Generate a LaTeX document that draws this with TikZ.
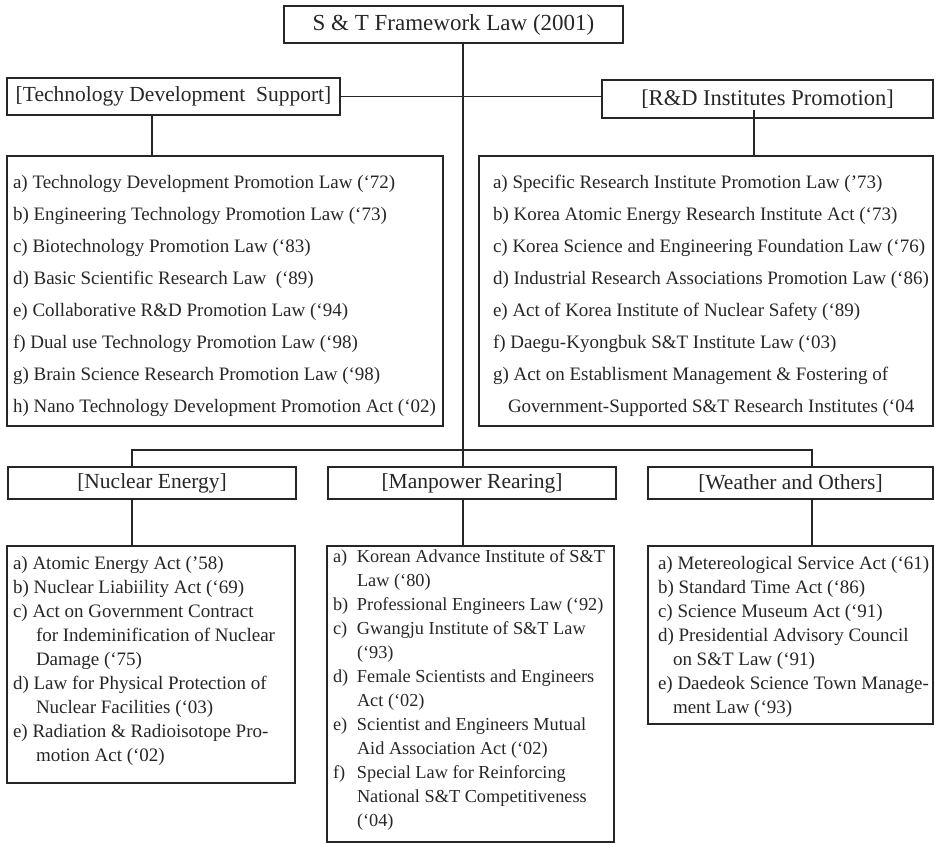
\documentclass[tikz,border=0pt]{standalone}
\usepackage{fontspec}
\setmainfont{Liberation Serif}
\usetikzlibrary{positioning}

\begin{document}
\begin{tikzpicture}[x=1pt, y=-1pt, line width=1.2pt, color=black!85,
  box/.style = {draw, inner sep=0pt},
  head/.style = {box, font=\fontsize{21.5}{24}\selectfont},
  lawbox/.style = {box},
  items/.style = {align=left, inner sep=0pt, anchor=north west},
  wide/.style = {items, font=\fontsize{19}{32}\selectfont},
  tight/.style = {items, font=\fontsize{19}{24}\selectfont}]
\useasboundingbox (0,0) rectangle (935,843);

% headings
\node[head, minimum width=339pt, minimum height=37pt, font=\fontsize{23}{24}\selectfont] (fw) at (453.5,24.5) {S \& T Framework Law (2001)};
\node[head, minimum width=333pt, minimum height=37pt] (tds) at (173.5,96.5) {[Technology Development\ \ Support]};
\node[head, minimum width=331pt, minimum height=38pt, font=\fontsize{22.5}{24}\selectfont] (rdi) at (767.5,99) {[R\&D Institutes Promotion]};
\node[head, minimum width=288pt, minimum height=32pt] (nuc) at (152,483) {[Nuclear Energy]};
\node[head, minimum width=288pt, minimum height=32pt] (man) at (472,483) {[Manpower Rearing]};
\node[head, minimum width=285pt, minimum height=32pt] (wea) at (790.5,483) {[Weather and Others]};

% law boxes
\node[lawbox, minimum width=436pt, minimum height=270pt] (tdsl) at (225,291) {};
\node[lawbox, minimum width=454pt, minimum height=270pt] (rdil) at (706,291) {};
\node[lawbox, minimum width=288pt, minimum height=237pt] (nucl) at (151,664.5) {};
\node[lawbox, minimum width=287pt, minimum height=296pt] (manl) at (470.5,694) {};
\node[lawbox, minimum width=285pt, minimum height=178pt] (weal) at (790.5,635) {};

\node[wide] (tdst) at ([shift={(6,19)}]tdsl.north west) {a) Technology Development Promotion Law (‘72)\\
b) Engineering Technology Promotion Law (‘73)\\
c) Biotechnology Promotion Law (‘83)\\
d) Basic Scientific Research Law\ \ (‘89)\\
e) Collaborative R\&D Promotion Law (‘94)\\
f) Dual use Technology Promotion Law (‘98)\\
g) Brain Science Research Promotion Law (‘98)\\
h) Nano Technology Development Promotion Act (‘02)};

\node[wide] (rdit) at ([shift={(14,19)}]rdil.north west) {a) Specific Research Institute Promotion Law (’73)\\
b) Korea Atomic Energy Research Institute Act (‘73)\\
c) Korea Science and Engineering Foundation Law (‘76)\\
d) Industrial Research Associations Promotion Law (‘86)\\
e) Act of Korea Institute of Nuclear Safety (‘89)\\
f) Daegu-Kyongbuk S\&T Institute Law (‘03)\\
g) Act on Establisment Management \& Fostering of\\
\hspace*{15pt}Government-Supported S\&T Research Institutes (‘04};

\node[tight] (nuct) at ([shift={(6,10)}]nucl.north west) {a) Atomic Energy Act (’58)\\
b) Nuclear Liabiility Act (‘69)\\
c) Act on Government Contract\\
\hspace*{23pt}for Indeminification of Nuclear\\
\hspace*{23pt}Damage (‘75)\\
d) Law for Physical Protection of\\
\hspace*{23pt}Nuclear Facilities (‘03)\\
e) Radiation \& Radioisotope Pro-\\
\hspace*{23pt}motion Act (‘02)};

\node[tight, font=\fontsize{18.3}{24}\selectfont] (mant) at ([shift={(6,4)}]manl.north west) {\makebox[24pt][l]{a)}Korean Advance Institute of S\&T\\
\hspace*{24pt}Law (‘80)\\
\makebox[24pt][l]{b)}Professional Engineers Law (‘92)\\
\makebox[24pt][l]{c)}Gwangju Institute of S\&T Law\\
\hspace*{24pt}(‘93)\\
\makebox[24pt][l]{d)}Female Scientists and Engineers\\
\hspace*{24pt}Act (‘02)\\
\makebox[24pt][l]{e)}Scientist and Engineers Mutual\\
\hspace*{24pt}Aid Association Act (‘02)\\
\makebox[24pt][l]{f)}Special Law for Reinforcing\\
\hspace*{24pt}National S\&T Competitiveness\\
\hspace*{24pt}(‘04)};

\node[tight] (weat) at ([shift={(10,10)}]weal.north west) {a) Metereological Service Act (‘61)\\
b) Standard Time Act (‘86)\\
c) Science Museum Act (‘91)\\
d) Presidential Advisory Council\\
\hspace*{15pt}on S\&T Law (‘91)\\
e) Daedeok Science Town Manage-\\
\hspace*{15pt}ment Law (‘93)};

% connectors
\coordinate (spine) at (463,450);
\coordinate (nucx) at (132,450);
\coordinate (weax) at (812,450);
\coordinate (tdsx) at (152,0);
\coordinate (rdtap) at (754,110);
\draw (fw.south -| spine) -- (man.north -| spine);
\draw (man.south -| spine) -- (manl.north -| spine);
\draw (tds.east) -- (rdi.west |- tds.east);
\draw (tds.south -| tdsx) -- (tdsl.north -| tdsx);
\draw (rdtap) -- (rdil.north -| rdtap);
\draw (nuc.north -| nucx) -- (nucx) -- (weax) -- (wea.north -| weax);
\draw (nuc.south -| nucx) -- (nucl.north -| nucx);
\draw (wea.south -| weax) -- (weal.north -| weax);
\end{tikzpicture}
\end{document}
